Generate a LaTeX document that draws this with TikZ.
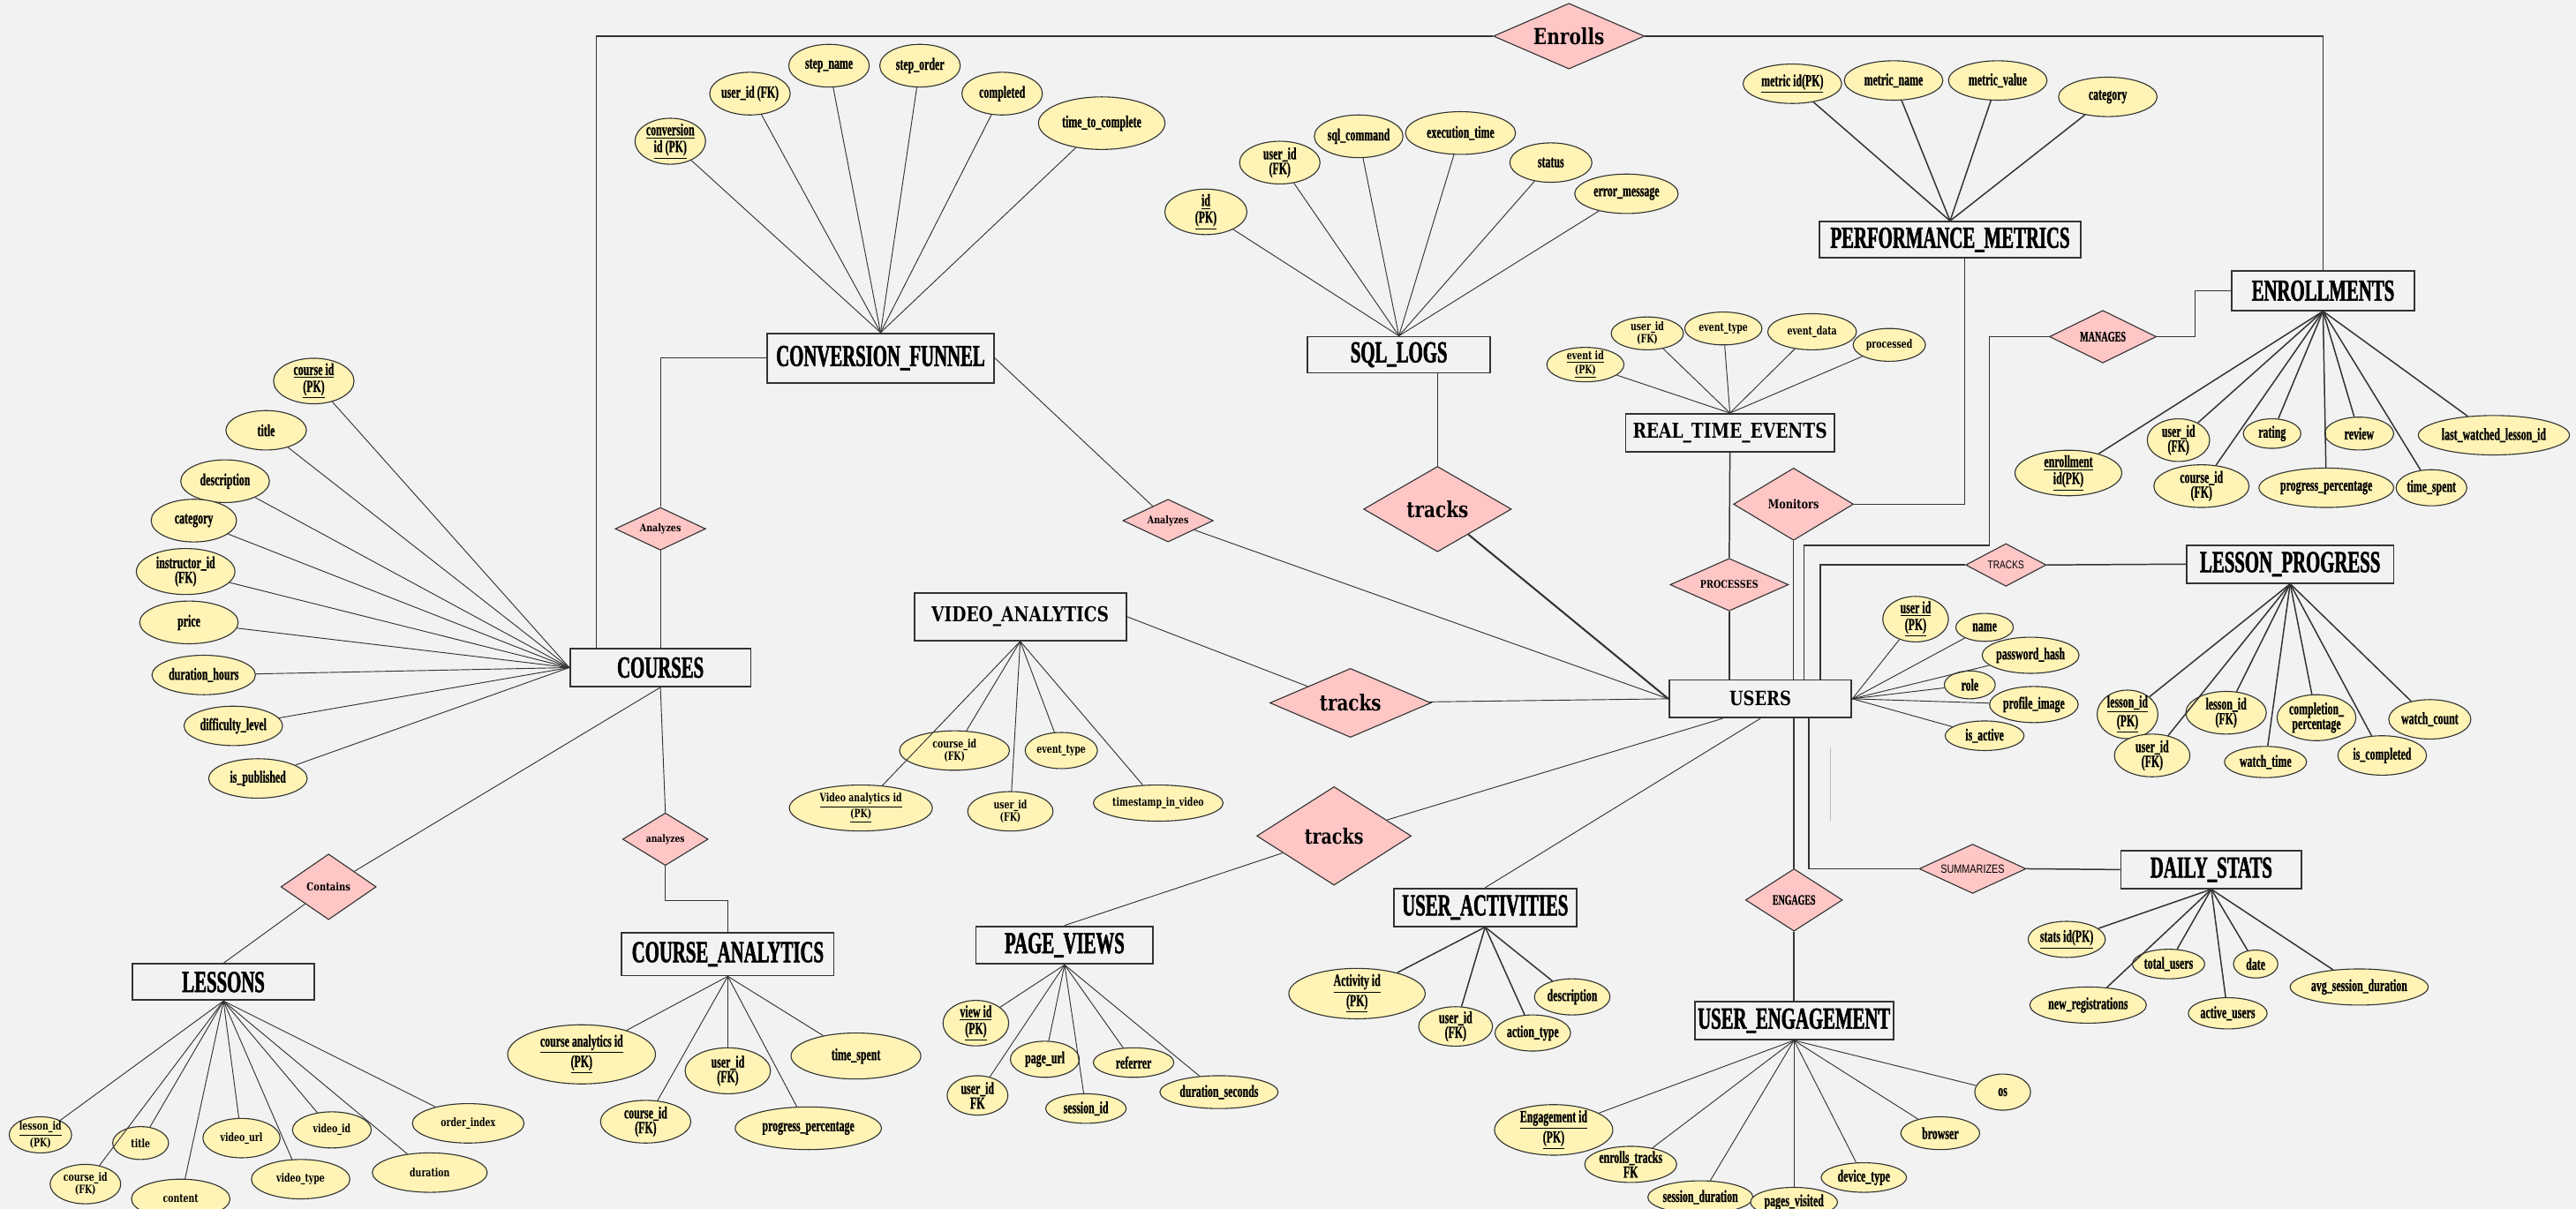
\documentclass[tikz,border=0pt]{standalone}
\usepackage{fontspec}
\usetikzlibrary{shapes.geometric}

% Type faces: a narrow heavy serif, a heavy serif and a narrow sans
\newfontfamily\fC[FakeStretch=0.6,FakeBold=1.5]{Liberation Serif}
\newfontfamily\fA[FakeStretch=0.62,FakeBold=0.8]{Liberation Serif}
\newfontfamily\fW[FakeStretch=0.8]{DejaVu Serif}
\newfontfamily\fV[FakeStretch=0.72]{DejaVu Serif}
\newfontfamily\fS[FakeStretch=0.8]{Liberation Sans}

\newcommand\attrC{\fA\bfseries\fontsize{10.3}{9}\selectfont}
\newcommand\attrW{\fV\bfseries\fontsize{7}{7.4}\selectfont}
\newcommand\entC{\fC\bfseries\fontsize{18.6}{19}\selectfont}
\newcommand\entW{\fW\bfseries\fontsize{12.5}{13}\selectfont}

\definecolor{bgcol}{HTML}{F2F2F2}
\definecolor{attrfill}{HTML}{FFF4B5}
\definecolor{relfill}{HTML}{FFC6C6}
\definecolor{linecol}{HTML}{333333}

\begin{document}
\begin{tikzpicture}[x=1pt,y=-1pt,
  attr/.style 2 args={ellipse, draw=linecol, line width=0.6pt, fill=attrfill,
    minimum width=#1, minimum height=#2, inner sep=-1pt, align=center, font=\attrC},
  wattr/.style 2 args={attr={#1}{#2}, font=\attrW},
  ent/.style 2 args={draw=linecol, line width=1pt, fill=bgcol,
    minimum width=#1, minimum height=#2, inner sep=0pt, font=\entC},
  rel/.style 2 args={diamond, aspect=2, draw=linecol, line width=0.6pt, fill=relfill,
    minimum width=#1, minimum height=#2, inner sep=0pt},
  aline/.style={draw=linecol, line width=0.5pt},
  rline/.style={draw=linecol, line width=0.8pt},
  hline/.style={draw=linecol, line width=1.1pt}]

\clip (0,0) rectangle (1568,736);
\fill[bgcol] (0,0) rectangle (1568,736);

% ---------------- entities ----------------
\node[ent={110}{23}] (courses) at (402,406.5) {COURSES};
\node[ent={138}{30}] (cf) at (536,218) {CONVERSION\_FUNNEL};
\node[ent={111}{22}] (sql) at (851.5,216) {SQL\_LOGS};
\node[ent={159}{22}] (pm) at (1187,146) {PERFORMANCE\_METRICS};
\node[ent={111}{24}] (enr) at (1414,177) {ENROLLMENTS};
\node[ent={127}{23}, font=\entW] (rte) at (1053,263.5) {REAL\_TIME\_EVENTS};
\node[ent={111}{23}, font=\fW\bfseries\fontsize{12}{12}\selectfont] (users) at (1071.5,425.5) {USERS};
\node[ent={126}{23}] (lp) at (1394,343.5) {LESSON\_PROGRESS};
\node[ent={110}{23}] (ds) at (1346,529.5) {DAILY\_STATS};
\node[ent={121}{23}] (ue) at (1092,621.5) {USER\_ENGAGEMENT};
\node[ent={111}{23}] (ua) at (904,552.5) {USER\_ACTIVITIES};
\node[ent={108}{23}] (pv) at (648,575.5) {PAGE\_VIEWS};
\node[ent={129}{26}] (ca) at (443,581) {COURSE\_ANALYTICS};
\node[ent={129}{29}, font=\entW] (va) at (621,375.5) {VIDEO\_ANALYTICS};
\node[ent={111}{22}] (les) at (136,598) {LESSONS};

% ---------------- relationships ----------------
\node[rel={92}{40}, font=\fW\bfseries\fontsize{13.5}{14}\selectfont] (enrolls) at (955,22) {Enrolls};
\node[rel={55}{26}, font=\fW\bfseries\fontsize{6.4}{7}\selectfont] (an1) at (402,322) {Analyzes};
\node[rel={55}{26}, font=\fW\bfseries\fontsize{6.4}{7}\selectfont] (an2) at (711,317) {Analyzes};
\node[rel={58}{40}, font=\fW\bfseries\fontsize{6.7}{7}\selectfont] (cont) at (200,540) {Contains};
\node[rel={52}{32}, font=\fW\bfseries\fontsize{6.2}{7}\selectfont] (an3) at (405,511) {analyzes};
\node[rel={98}{42}, font=\fW\bfseries\fontsize{13.4}{14}\selectfont] (tr1) at (822,428) {tracks};
\node[rel={90}{52}, font=\fW\bfseries\fontsize{13.4}{14}\selectfont] (tr2) at (875,310) {tracks};
\node[rel={94}{60}, font=\fW\bfseries\fontsize{12.8}{13}\selectfont] (tr3) at (812,509) {tracks};
\node[rel={72}{32}, font=\fW\bfseries\fontsize{6.4}{7}\selectfont] (proc) at (1052.6,356) {PROCESSES};
\node[rel={73}{44}, font=\fW\bfseries\fontsize{7.6}{8}\selectfont] (mon) at (1091.7,307) {Monitors};
\node[rel={65}{32}, font=\fA\bfseries\fontsize{8.8}{9}\selectfont] (mg) at (1280,205) {MANAGES};
\node[rel={49}{26}, font=\fS\fontsize{6.8}{7}\selectfont] (trL) at (1221,344) {TRACKS};
\node[rel={65}{30}, font=\fS\fontsize{7.3}{8}\selectfont] (sum) at (1200.7,529) {SUMMARIZES};
\node[rel={59}{38}, font=\fA\bfseries\fontsize{8.6}{9}\selectfont] (eng) at (1092,548) {ENGAGES};

% ---------------- attributes ----------------
% COURSES
\node[attr={49}{24}] (co1) at (191,232) {\underline{course id}\\\underline{(PK)}};
\node[attr={49}{24}] (co2) at (162,262) {title};
\node[attr={54}{26}] (co3) at (137,293) {description};
\node[attr={52}{26}] (co4) at (118,317) {category};
\node[attr={60}{28}] (co5) at (113,348) {instructor\_id\\(FK)};
\node[attr={60}{26}] (co6) at (115,379) {price};
\node[attr={63}{24}] (co7) at (124,411) {duration\_hours};
\node[attr={60}{24}] (co8) at (142,442) {difficulty\_level};
\node[attr={60}{24}] (co9) at (157,474) {is\_published};

% CONVERSION_FUNNEL
\node[attr={43}{28}] (cf1) at (408,86) {\underline{conversion}\\\underline{id (PK)}};
\node[attr={49}{26}] (cf2) at (456.5,57) {user\_id (FK)};
\node[attr={49}{26}] (cf3) at (504.6,40) {step\_name};
\node[attr={49}{26}] (cf4) at (560,40) {step\_order};
\node[attr={49}{26}] (cf5) at (610,57) {completed};
\node[attr={77}{32}] (cf6) at (670.6,75) {time\_to\_complete};

% SQL_LOGS
\node[attr={50}{24}] (sq1) at (734,129) {\underline{id}\\\underline{(PK)}};
\node[attr={49}{26}] (sq2) at (779,99) {user\_id\\(FK)};
\node[attr={54}{26}] (sq3) at (827,83) {sql\_command};
\node[attr={67}{26}] (sq4) at (889,81) {execution\_time};
\node[attr={50}{24}] (sq5) at (944,99) {status};
\node[attr={63}{24}] (sq6) at (990,118) {error\_message};

% PERFORMANCE_METRICS
\node[attr={60}{24}] (pm1) at (1091,51) {\underline{metric id(PK)}};
\node[attr={60}{24}] (pm2) at (1152.6,49) {metric\_name};
\node[attr={60}{24}] (pm3) at (1216,49) {metric\_value};
\node[attr={60}{24}] (pm4) at (1283,59) {category};

% ENROLLMENTS
\node[attr={65}{26}] (en1) at (1259,288) {\underline{enrollment}\\\underline{id(PK)}};
\node[attr={38}{26}] (en2) at (1326,268) {user\_id\\(FK)};
\node[attr={35}{18}] (en3) at (1383,264) {rating};
\node[attr={42}{20}] (en4) at (1436,264) {review};
\node[attr={92}{24}] (en5) at (1518,265) {last\_watched\_lesson\_id};
\node[attr={58}{26}] (en6) at (1340,296) {course\_id\\(FK)};
\node[attr={82}{24}] (en7) at (1416,297) {progress\_percentage};
\node[attr={43}{22}] (en8) at (1480,297) {time\_spent};

% REAL_TIME_EVENTS
\node[wattr={47}{20}] (re1) at (965,222) {\underline{event id}\\\underline{(PK)}};
\node[wattr={44}{20}] (re2) at (1002.7,203) {user\_id\\(FK)};
\node[wattr={47}{20}] (re3) at (1049,200) {event\_type};
\node[wattr={54}{22}] (re4) at (1103,202) {event\_data};
\node[wattr={44}{20}] (re5) at (1150,210) {processed};

% USERS
\node[attr={40}{22}] (us1) at (1166,377) {\underline{user id}\\\underline{(PK)}};
\node[attr={35}{17}] (us2) at (1208,382) {name};
\node[attr={59}{22}] (us3) at (1236,399) {password\_hash};
\node[attr={31}{17}] (us4) at (1199,417) {role};
\node[attr={54}{22}] (us5) at (1238,429) {profile\_image};
\node[attr={48}{18}] (us6) at (1208,448) {is\_active};

% LESSON_PROGRESS
\node[attr={37}{24}] (lp1) at (1295,435) {\underline{lesson\_id}\\\underline{(PK)}};
\node[attr={46}{26}] (lp2) at (1310,460) {user\_id\\(FK)};
\node[attr={49}{26}] (lp3) at (1355,434) {lesson\_id\\(FK)};
\node[attr={50}{19}] (lp4) at (1379,464) {watch\_time};
\node[attr={48}{28}] (lp5) at (1410,437) {completion\_\\percentage};
\node[attr={54}{24}] (lp6) at (1450,460) {is\_completed};
\node[attr={50}{24}] (lp7) at (1479,438) {watch\_count};

% DAILY_STATS
\node[attr={47}{22}] (ds1) at (1258,572) {\underline{stats id(PK)}};
\node[attr={44}{18}] (ds2) at (1320,587) {total\_users};
\node[attr={27}{17}] (ds3) at (1373,587) {date};
\node[attr={71}{22}] (ds4) at (1271,612) {new\_registrations};
\node[attr={48}{19}] (ds5) at (1356,617) {active\_users};
\node[attr={84}{22}] (ds6) at (1436,601) {avg\_session\_duration};

% USER_ENGAGEMENT
\node[attr={72}{30}] (ue1) at (945.7,688) {\underline{Engagement id}\\\underline{(PK)}};
\node[attr={56}{22}] (ue2) at (992.6,709) {enrolls\_tracks\\FK};
\node[attr={64}{20}] (ue3) at (1035,729) {session\_duration};
\node[attr={53}{18}] (ue4) at (1092,732) {pages\_visited};
\node[attr={52}{18}] (ue5) at (1134.5,717) {device\_type};
\node[attr={48}{20}] (ue6) at (1181,690) {browser};
\node[attr={34}{22}] (ue7) at (1219,665) {os};

% USER_ACTIVITIES
\node[attr={83}{24}] (ua1) at (826,605) {\underline{Activity id}\\\underline{(PK)}};
\node[attr={45}{24}] (ua2) at (886,625) {user\_id\\(FK)};
\node[attr={46}{22}] (ua3) at (933,629) {action\_type};
\node[attr={46}{22}] (ua4) at (957,607) {description};

% PAGE_VIEWS
\node[attr={40}{24}] (pv1) at (594,623) {\underline{view id}\\\underline{(PK)}};
\node[attr={37}{24}] (pv2) at (595,667) {user\_id\\FK};
\node[attr={42}{22}] (pv3) at (636,645) {page\_url};
\node[attr={49}{18}] (pv4) at (690,647) {referrer};
\node[attr={49}{18}] (pv5) at (661,675) {session\_id};
\node[attr={72}{20}] (pv6) at (742,665) {duration\_seconds};

% COURSE_ANALYTICS
\node[attr={90}{36}] (ca1) at (354,642) {\underline{course analytics id}\\\underline{(PK)}};
\node[attr={52}{28}] (ca2) at (443,652) {user\_id\\(FK)};
\node[attr={79}{28}] (ca3) at (521,643) {time\_spent};
\node[attr={55}{26}] (ca4) at (393,683) {course\_id\\(FK)};
\node[attr={89}{26}] (ca5) at (492,687) {progress\_percentage};

% VIDEO_ANALYTICS
\node[wattr={67}{24}] (va1) at (581,457) {course\_id\\(FK)};
\node[wattr={44}{22}] (va2) at (646,457) {event\_type};
\node[wattr={87}{28}] (va3) at (524,492) {\underline{Video analytics id}\\\underline{(PK)}};
\node[wattr={52}{24}] (va4) at (615,494) {user\_id\\(FK)};
\node[wattr={79}{22}] (va5) at (705,489) {timestamp\_in\_video};

% LESSONS
\node[wattr={38}{22}] (le1) at (24.6,691) {\underline{lesson\_id}\\(PK)};
\node[wattr={43}{24}] (le2) at (52,721) {course\_id\\(FK)};
\node[wattr={34}{20}] (le3) at (85.6,696) {title};
\node[wattr={60}{24}] (le4) at (110,730) {content};
\node[wattr={47}{24}] (le5) at (147,693) {video\_url};
\node[wattr={60}{24}] (le6) at (183,718) {video\_type};
\node[wattr={48}{22}] (le7) at (202,688) {video\_id};
\node[wattr={70}{24}] (le8) at (261.6,714) {duration};
\node[wattr={68}{24}] (le9) at (285,684) {order\_index};

% ---------------- attribute links ----------------
\foreach \n in {co1,co2,co3,co4,co5,co6,co7,co8,co9} \draw[aline] (courses.west) -- (\n);
\foreach \n in {cf1,cf2,cf3,cf4,cf5,cf6} \draw[aline] (cf.north) -- (\n);
\foreach \n in {sq1,sq2,sq3,sq4,sq5,sq6} \draw[aline] (sql.north) -- (\n);
\foreach \n in {pm1,pm2,pm3,pm4} \draw[rline] (pm.north) -- (\n);
\foreach \n in {en1,en2,en3,en4,en5,en6,en7,en8} \draw[rline] (enr.south) -- (\n);
\foreach \n in {re1,re2,re3,re4,re5} \draw[aline] (rte.north) -- (\n);
\foreach \n in {us1,us2,us3,us4,us5,us6} \draw[aline] (users.east) -- (\n);
\foreach \n in {lp1,lp2,lp3,lp4,lp5,lp6,lp7} \draw[rline] (lp.south) -- (\n);
\foreach \n in {ds1,ds2,ds3,ds4,ds5,ds6} \draw[rline] (ds.south) -- (\n);
\foreach \n in {ue1,ue2,ue3,ue4,ue5,ue6,ue7} \draw[aline] (ue.south) -- (\n);
\foreach \n in {ua1,ua2,ua3,ua4} \draw[rline] (ua.south) -- (\n);
\foreach \n in {pv1,pv2,pv3,pv4,pv5,pv6} \draw[aline] (pv.south) -- (\n);
\foreach \n in {ca1,ca2,ca3,ca4,ca5} \draw[aline] (ca.south) -- (\n);
\foreach \n in {va1,va2,va3,va4,va5} \draw[aline] (va.south) -- (\n);
\foreach \n in {le1,le2,le3,le4,le5,le6,le7,le8,le9} \draw[aline] (les.south) -- (\n);

% ---------------- relationship links ----------------
\coordinate (fl) at (363,0);
\draw[rline] (courses.north -| fl) |- (enrolls.west);
\draw[rline] (enrolls.east) -| (enr.north);

\draw[aline] (cf.west) -| (an1.north);
\draw[aline] (an1.south) -- (courses.north);

\draw[aline] (cf.east) -- (an2);
\draw[aline] (an2) -- (users.west);

\draw[aline] (va.east) -- (tr1);
\draw[aline] (tr1) -- (users.west);

\draw[aline] (tr2.north |- sql.south) -- (tr2.north);
\draw[hline] (tr2) -- (users.west);

\draw[rline] (rte.south) -- (proc.north);
\draw[rline] (proc.south) -- (proc.south |- users.north);

\draw[rline] (mon.east) -| ([xshift=9]pm.south);
\draw[rline] (mon.south) -- (mon.south |- users.north);

\coordinate (mgA) at (1211,332);
\coordinate (mgB) at (1336,205);
\draw[rline] ([xshift=26.5]users.north) |- (mgA) |- (mg.west);
\draw[rline] (mg.east) -- (mgB) |- (enr.west);

\draw[rline] ([xshift=36.5]users.north) |- (trL.west);
\draw[rline] (trL.east) -- (lp.west);

\draw[hline] (eng.north |- users.south) -- (eng.north);
\draw[hline] (eng.south) -- (ue.north);

\draw[rline] ([xshift=29.5]users.south) |- (sum.west);
\draw[rline] (sum.east) -- (ds.west);

\draw[aline] ([xshift=-23]users.south) -- (tr3);
\draw[aline] (tr3) -- (pv.north);

\draw[aline] (users.south) -- (ua.north);

\draw[aline] (courses.south) -- (cont);
\draw[aline] (cont) -- (les.north);

\draw[aline] (courses.south) -- (an3.north);
\draw[aline] (an3.south) -- ++(0,21) -| (ca.north);

% faint guide stroke below USERS
\draw[black!25, line width=0.6pt] (1114,455) -- (1114,500);
\end{tikzpicture}
\end{document}
